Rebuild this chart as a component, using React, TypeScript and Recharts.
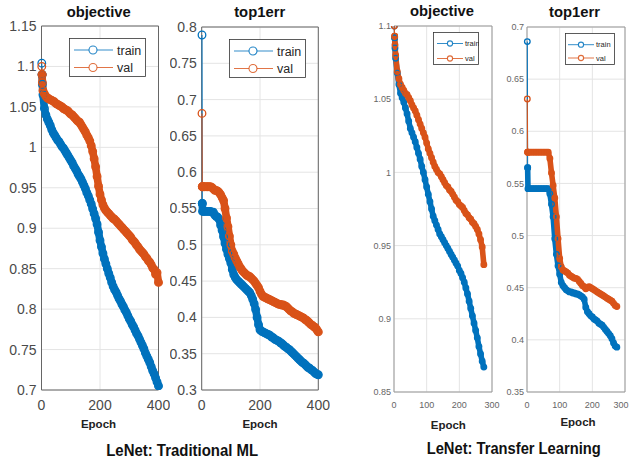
import { LineChart, Line, XAxis, YAxis, CartesianGrid, ReferenceArea, Legend } from "recharts";

const BLUE = "#0072BD";
const ORANGE = "#D95319";
const FONT = '"Liberation Sans", Arial, sans-serif';

// epochs sampled from the curves (traditional runs go to 400, transfer runs stop near 275)
const epochsTrad = [
  1, 2, 3, 5,
  10, 15, 20, 25, 30, 35, 40, 45, 50, 55,
  60, 65, 70, 75, 80, 85, 90, 95, 100, 105,
  110, 115, 120, 125, 130, 135, 140, 145, 150, 155,
  160, 165, 170, 175, 180, 185, 190, 195, 200, 205,
  210, 215, 220, 225, 230, 235, 240, 245, 250, 255,
  260, 265, 270, 275, 280, 285, 290, 295, 300, 305,
  310, 315, 320, 325, 330, 335, 340, 345, 350, 355,
  360, 365, 370, 375, 380, 385, 390, 395, 400,
];

const epochsTransfer = [
  1, 2, 3, 5,
  10, 15, 20, 25, 30, 35, 40, 45, 50, 55,
  60, 65, 70, 75, 80, 85, 90, 95, 100, 105,
  110, 115, 120, 125, 130, 135, 140, 145, 150, 155,
  160, 165, 170, 175, 180, 185, 190, 195, 200, 205,
  210, 215, 220, 225, 230, 235, 240, 245, 250, 255,
  260, 265, 270, 275,
];

// LeNet traditional - objective
const objTradTrain = [
  1.104, 1.09, 1.078, 1.065,
  1.048, 1.04, 1.035, 1.031, 1.027, 1.022, 1.018, 1.015, 1.012, 1.009,
  1.007, 1.004, 1.001, 0.999, 0.996, 0.993, 0.99, 0.987, 0.984, 0.981,
  0.977, 0.974, 0.971, 0.967, 0.964, 0.961, 0.957, 0.953, 0.949, 0.944,
  0.94, 0.935, 0.93, 0.924, 0.918, 0.912, 0.905, 0.895, 0.885, 0.877,
  0.869, 0.862, 0.856, 0.85, 0.844, 0.839, 0.833, 0.828, 0.824, 0.821,
  0.817, 0.813, 0.81, 0.806, 0.803, 0.799, 0.796, 0.792, 0.788, 0.785,
  0.781, 0.778, 0.774, 0.77, 0.767, 0.763, 0.759, 0.755, 0.751, 0.746,
  0.742, 0.738, 0.734, 0.729, 0.724, 0.72, 0.715, 0.71, 0.705,
];
const objTradVal = [
  1.1, 1.09, 1.08, 1.07,
  1.066, 1.063, 1.061, 1.06, 1.059, 1.058, 1.057, 1.056, 1.054, 1.053,
  1.052, 1.051, 1.05, 1.048, 1.047, 1.046, 1.045, 1.043, 1.041, 1.04,
  1.038, 1.036, 1.034, 1.032, 1.031, 1.028, 1.025, 1.022, 1.019, 1.015,
  1.012, 1.008, 1.002, 0.995, 0.986, 0.976, 0.964, 0.952, 0.942, 0.935,
  0.929, 0.925, 0.922, 0.92, 0.918, 0.916, 0.914, 0.912, 0.911, 0.909,
  0.907, 0.905, 0.903, 0.901, 0.899, 0.897, 0.895, 0.893, 0.891, 0.889,
  0.886, 0.884, 0.882, 0.879, 0.877, 0.874, 0.872, 0.87, 0.868, 0.865,
  0.863, 0.86, 0.858, 0.855, 0.851, 0.849, 0.843, 0.845, 0.833,
];

// LeNet traditional - top1err
const errTradTrain = [
  0.789, 0.557, 0.546, 0.546,
  0.546, 0.546, 0.546, 0.546, 0.546, 0.545, 0.545, 0.541, 0.539, 0.538,
  0.535, 0.527, 0.52, 0.511, 0.502, 0.494, 0.487, 0.481, 0.475, 0.466,
  0.459, 0.455, 0.452, 0.45, 0.448, 0.446, 0.444, 0.442, 0.44, 0.438,
  0.436, 0.434, 0.43, 0.425, 0.419, 0.411, 0.4, 0.39, 0.383, 0.381,
  0.38, 0.379, 0.378, 0.377, 0.376, 0.375, 0.373, 0.372, 0.37, 0.369,
  0.368, 0.367, 0.365, 0.364, 0.362, 0.36, 0.359, 0.357, 0.356, 0.354,
  0.352, 0.35, 0.348, 0.346, 0.344, 0.342, 0.34, 0.338, 0.337, 0.335,
  0.333, 0.331, 0.33, 0.328, 0.327, 0.325, 0.323, 0.322, 0.321,
];
const errTradVal = [
  0.681, 0.58, 0.58, 0.58,
  0.58, 0.58, 0.58, 0.58, 0.58, 0.579, 0.577, 0.575, 0.575, 0.574,
  0.572, 0.569, 0.565, 0.561, 0.55, 0.537, 0.525, 0.512, 0.5, 0.491,
  0.487, 0.482, 0.478, 0.474, 0.47, 0.467, 0.464, 0.462, 0.46, 0.458,
  0.457, 0.456, 0.454, 0.452, 0.45, 0.447, 0.444, 0.441, 0.436, 0.432,
  0.429, 0.428, 0.427, 0.426, 0.425, 0.424, 0.423, 0.422, 0.421, 0.42,
  0.419, 0.418, 0.418, 0.417, 0.417, 0.416, 0.415, 0.413, 0.411, 0.409,
  0.408, 0.406, 0.405, 0.404, 0.403, 0.402, 0.401, 0.4, 0.399, 0.397,
  0.396, 0.394, 0.392, 0.39, 0.389, 0.387, 0.386, 0.383, 0.38,
];

// LeNet transfer learning - objective
const objTransTrain = [
  1.1, 1.092, 1.085, 1.078,
  1.068, 1.06, 1.054, 1.051, 1.048, 1.044, 1.04, 1.035, 1.03, 1.027,
  1.024, 1.021, 1.017, 1.013, 1.009, 1.004, 1.0, 0.995, 0.99, 0.985,
  0.98, 0.975, 0.97, 0.967, 0.964, 0.961, 0.958, 0.956, 0.954, 0.952,
  0.95, 0.948, 0.946, 0.944, 0.942, 0.94, 0.938, 0.936, 0.933, 0.931,
  0.928, 0.925, 0.921, 0.917, 0.912, 0.907, 0.902, 0.897, 0.892, 0.887,
  0.881, 0.876, 0.871, 0.867,
];
const objTransVal = [
  1.1, 1.093, 1.087, 1.08,
  1.069, 1.064, 1.06, 1.058, 1.056, 1.054, 1.053, 1.051, 1.049, 1.046,
  1.044, 1.042, 1.039, 1.036, 1.033, 1.03, 1.027, 1.024, 1.02, 1.016,
  1.013, 1.01, 1.007, 1.004, 1.002, 1.0, 0.999, 0.997, 0.995, 0.993,
  0.991, 0.99, 0.988, 0.987, 0.985, 0.983, 0.981, 0.98, 0.978, 0.977,
  0.976, 0.974, 0.972, 0.971, 0.969, 0.968, 0.966, 0.965, 0.963, 0.961,
  0.958, 0.954, 0.949, 0.937,
];

// LeNet transfer learning - top1err
const errTransTrain = [
  0.686, 0.565, 0.545, 0.545,
  0.545, 0.545, 0.545, 0.545, 0.545, 0.545, 0.545, 0.545, 0.545, 0.545,
  0.545, 0.545, 0.54, 0.53, 0.518, 0.497, 0.482, 0.471, 0.463, 0.455,
  0.452, 0.45, 0.448, 0.447, 0.446, 0.446, 0.445, 0.445, 0.444, 0.444,
  0.443, 0.442, 0.441, 0.439, 0.431, 0.427, 0.425, 0.423, 0.422, 0.42,
  0.419, 0.418, 0.416, 0.415, 0.414, 0.412, 0.41, 0.408, 0.406, 0.404,
  0.401, 0.397, 0.394, 0.393,
];
const errTransVal = [
  0.631, 0.58, 0.58, 0.58,
  0.58, 0.58, 0.58, 0.58, 0.58, 0.58, 0.58, 0.58, 0.58, 0.58,
  0.58, 0.58, 0.574, 0.56, 0.548, 0.536, 0.518, 0.497, 0.478, 0.47,
  0.467, 0.466, 0.465, 0.464, 0.462, 0.461, 0.46, 0.459, 0.459, 0.458,
  0.456, 0.454, 0.452, 0.451, 0.449, 0.45, 0.451, 0.45, 0.449, 0.448,
  0.447, 0.446, 0.445, 0.444, 0.443, 0.442, 0.441, 0.44, 0.439, 0.438,
  0.437, 0.435, 0.433, 0.432,
];

// tick labels
const xTicksTrad = [0, 200, 400];
const xTicksTransfer = [0, 100, 200, 300];
const yTicksObjTrad = [0.7, 0.75, 0.8, 0.85, 0.9, 0.95, 1, 1.05, 1.1, 1.15];
const yTicksErrTrad = [0.3, 0.35, 0.4, 0.45, 0.5, 0.55, 0.6, 0.65, 0.7, 0.75, 0.8];
const yTicksObjTransfer = [0.85, 0.9, 0.95, 1, 1.05, 1.1];
const yTicksErrTransfer = [0.35, 0.4, 0.45, 0.5, 0.55, 0.6, 0.65, 0.7];

// first epoch is drawn with a thin line, the rest as a dense marker band
const rows = (epochs: number[], train: number[], val: number[]) =>
  epochs.map((epoch, i) => ({
    epoch,
    train: i >= 1 ? train[i] : null,
    val: i >= 1 ? val[i] : null,
    trainHead: i <= 1 ? train[i] : null,
    valHead: i <= 1 ? val[i] : null,
  }));

type LegendCfg = {
  left: number; top: number; w: number; h: number;
  x1: number; x2: number; cx: number; tx: number;
  rowY: number[]; fs: number; r: number;
};

function LegendBox({ payload, cfg }: { payload?: any[]; cfg: LegendCfg }) {
  const items = (payload || []).filter((d) => d.value === "train" || d.value === "val");
  return (
    <svg width={cfg.w} height={cfg.h} style={{ display: "block" }}>
      <rect x={0.5} y={0.5} width={cfg.w - 1} height={cfg.h - 1} fill="#fff" stroke="#333" strokeWidth={0.8} />
      {items.map((item, i) => (
        <g key={item.value}>
          <line x1={cfg.x1} x2={cfg.x2} y1={cfg.rowY[i]} y2={cfg.rowY[i]} stroke={item.color} strokeOpacity={0.8} strokeWidth={1} />
          <circle cx={cfg.cx} cy={cfg.rowY[i]} r={cfg.r} fill="#fff" stroke={item.color} strokeOpacity={0.85} strokeWidth={1.1} />
          <text x={cfg.tx} y={cfg.rowY[i]} dy="0.36em" fontSize={cfg.fs} fill="#262626">
            {item.value}
          </text>
        </g>
      ))}
    </svg>
  );
}

type PanelProps = {
  left: number;
  width: number;
  yWidth: number;
  top: number;
  bottom: number;
  right: number;
  data: any[];
  xMax: number;
  xTicks: number[];
  yTicks: number[];
  fontSize: number;
  tickFill: string;
  xTickMargin: number;
  yTickMargin: number;
  dotR: number;
  boxColor: string;
  lastTickEnd?: boolean;
  legend: LegendCfg;
};

function Panel(p: PanelProps) {
  const yMin = p.yTicks[0];
  const yMax = p.yTicks[p.yTicks.length - 1];
  const height = 420;
  const dot = (c: string) => ({ r: p.dotR, fill: "none", stroke: c, strokeWidth: 1.3 });
  const band = p.dotR * 2;
  const xTick = (t: any) => {
    const last = p.lastTickEnd && t.payload.value === p.xMax;
    return (
      <text
        x={last ? p.width - 0.5 : t.x}
        y={t.y}
        dy="0.71em"
        textAnchor={last ? "end" : "middle"}
        fontSize={p.fontSize}
        fill={p.tickFill}
      >
        {t.payload.value}
      </text>
    );
  };
  return (
    <div style={{ position: "absolute", left: p.left, top: 0, width: p.width, height }}>
      <LineChart
        width={p.width}
        height={height}
        data={p.data}
        margin={{ top: p.top, right: p.right, bottom: 0, left: 0 }}
      >
        <CartesianGrid stroke="#e4e4e4" />
        <XAxis
          dataKey="epoch"
          type="number"
          domain={[0, p.xMax]}
          ticks={p.xTicks}
          height={height - p.bottom}
          tickSize={0}
          tickLine={false}
          axisLine={false}
          tickMargin={p.xTickMargin}
          tick={xTick}
          interval={0}
        />
        <YAxis
          type="number"
          domain={[yMin, yMax]}
          ticks={p.yTicks}
          width={p.yWidth}
          tickSize={0}
          tickLine={false}
          axisLine={false}
          tickMargin={p.yTickMargin}
          tick={{ fontSize: p.fontSize, fill: p.tickFill }}
          interval={0}
          allowDataOverflow
        />
        <ReferenceArea x1={0} x2={p.xMax} y1={yMin} y2={yMax} fill="none" stroke={p.boxColor} strokeWidth={1} />
        <Legend
          layout="horizontal"
          verticalAlign="middle"
          align="center"
          wrapperStyle={{ left: p.legend.left, top: p.legend.top, width: p.legend.w, height: p.legend.h }}
          content={(props: any) => <LegendBox payload={props.payload} cfg={p.legend} />}
        />
        <Line
          dataKey="trainHead"
          name="trainHead"
          legendType="none"
          stroke={BLUE}
          strokeWidth={1}
          dot={dot(BLUE)}
          activeDot={false}
          isAnimationActive={false}
        />
        <Line
          dataKey="train"
          name="train"
          stroke={BLUE}
          strokeWidth={band}
          strokeLinejoin="round"
          strokeLinecap="round"
          dot={dot(BLUE)}
          activeDot={false}
          isAnimationActive={false}
        />
        <Line
          dataKey="valHead"
          name="valHead"
          legendType="none"
          stroke={ORANGE}
          strokeWidth={1}
          dot={dot(ORANGE)}
          activeDot={false}
          isAnimationActive={false}
        />
        <Line
          dataKey="val"
          name="val"
          stroke={ORANGE}
          strokeWidth={band}
          strokeLinejoin="round"
          strokeLinecap="round"
          dot={dot(ORANGE)}
          activeDot={false}
          isAnimationActive={false}
        />
      </LineChart>
    </div>
  );
}

const legendBig = (left: number, top: number): LegendCfg => ({
  left, top, w: 77, h: 39, x1: 5, x2: 44, cx: 24, tx: 48, rowY: [12, 29.5], fs: 12.5, r: 4,
});

export default function App() {
  return (
    <div style={{ position: "absolute", left: 0, top: 0, width: 629, height: 461, background: "#fff", fontFamily: FONT, overflow: "hidden" }}>
      <Panel
        left={0} width={170} yWidth={41.5} top={26} bottom={390} right={11.5}
        data={rows(epochsTrad, objTradTrain, objTradVal)}
        xMax={400} xTicks={xTicksTrad} yTicks={yTicksObjTrad}
        fontSize={14} tickFill="#4a4a4a" xTickMargin={10} yTickMargin={5}
        dotR={3.8} boxColor="#666" legend={legendBig(69, 38)}
      />
      <Panel
        left={170} width={160} yWidth={31.7} top={27} bottom={390} right={11.7}
        data={rows(epochsTrad, errTradTrain, errTradVal)}
        xMax={400} xTicks={xTicksTrad} yTicks={yTicksErrTrad}
        fontSize={14} tickFill="#4a4a4a" xTickMargin={10} yTickMargin={5}
        dotR={3.8} boxColor="#666" legend={legendBig(59, 39)}
      />
      <Panel
        left={350} width={152} yWidth={44} top={26} bottom={392} right={10}
        data={rows(epochsTransfer, objTransTrain, objTransVal)}
        xMax={300} xTicks={xTicksTransfer} yTicks={yTicksObjTransfer}
        fontSize={9} tickFill="#666" xTickMargin={10} yTickMargin={3}
        dotR={2.8} boxColor="#999"
        legend={{ left: 83, top: 32, w: 46, h: 33, x1: 4, x2: 30, cx: 17, tx: 32, rowY: [11.5, 26.5], fs: 7.5, r: 2.6 }}
      />
      <Panel
        left={495} width={134} yWidth={32} top={27} bottom={392} right={4}
        data={rows(epochsTransfer, errTransTrain, errTransVal)}
        xMax={300} xTicks={xTicksTransfer} yTicks={yTicksErrTransfer}
        fontSize={9} tickFill="#666" xTickMargin={10} yTickMargin={3}
        dotR={2.8} boxColor="#999" lastTickEnd
        legend={{ left: 70, top: 33, w: 50, h: 32, x1: 3, x2: 29, cx: 16, tx: 31, rowY: [11.7, 25], fs: 7.5, r: 2.6 }}
      />
      <svg width={629} height={461} style={{ position: "absolute", left: 0, top: 0, pointerEvents: "none" }}>
        <g fontWeight="bold" fill="#111" textAnchor="middle">
          <text x={98.7} y={17.3} fontSize={14.5} textLength={64} lengthAdjust="spacingAndGlyphs">objective</text>
          <text x={259.7} y={17.3} fontSize={14.5} textLength={51} lengthAdjust="spacingAndGlyphs">top1err</text>
          <text x={442} y={16} fontSize={14.5} textLength={64} lengthAdjust="spacingAndGlyphs">objective</text>
          <text x={574.5} y={16.5} fontSize={14.5} textLength={51} lengthAdjust="spacingAndGlyphs">top1err</text>
          <text x={98.5} y={428} fontSize={11.5} fill="#222">Epoch</text>
          <text x={260} y={428} fontSize={11.5} fill="#222">Epoch</text>
          <text x={448.3} y={429} fontSize={11.5} fill="#222">Epoch</text>
          <text x={578} y={426} fontSize={11.5} fill="#222">Epoch</text>
          <text x={182.2} y={456} fontSize={16} textLength={152} lengthAdjust="spacingAndGlyphs">LeNet: Traditional ML</text>
          <text x={513.7} y={454.3} fontSize={16} textLength={174} lengthAdjust="spacingAndGlyphs">LeNet: Transfer Learning</text>
        </g>
      </svg>
    </div>
  );
}
